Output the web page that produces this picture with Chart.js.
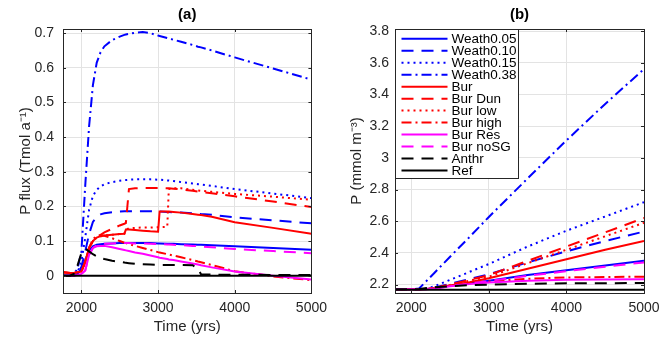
<!DOCTYPE html>
<html>
<head>
<meta charset="utf-8">
<script src="https://cdn.jsdelivr.net/npm/chart.js@4"></script>
<style>
  body { margin: 0; background: #fff; }
  .panel { position: absolute; top: 0; }
</style>
</head>
<body>
<div class="panel" style="left:0"><canvas id="chartA" width="334" height="338"></canvas></div>
<div class="panel" style="left:334px"><canvas id="chartB" width="335" height="338"></canvas></div>
<script>
// Data
const seriesNames = ['Weath0.05', 'Weath0.10', 'Weath0.15', 'Weath0.38', 'Bur', 'Bur Dun',
    'Bur low', 'Bur high', 'Bur Res', 'Bur noSG', 'Anthr', 'Ref'];

const xTicks = [2000, 3000, 4000, 5000];
const fluxTicks = [0, 0.1, 0.2, 0.3, 0.4, 0.5, 0.6, 0.7];
const concTicks = [2.2, 2.4, 2.6, 2.8, 3.0, 3.2, 3.4, 3.6, 3.8];

// (a) P flux, Tmol/a
const yearsA = [1760, 1850, 1900, 1950, 2000, 2050, 2100, 2150, 2200, 2250, 2300, 2400, 2500, 2560, 2580, 2620,
    2700, 2800, 2900, 3000, 3020, 3120, 3140, 3200, 3300, 3450, 3520, 3560, 3700, 4000, 4500, 5000];
const fluxW05 = [0, 0, 0, 0.005, 0.02, 0.045, 0.072, 0.085, 0.089, 0.091, 0.092, 0.093, 0.094, 0.094, 0.094, 0.094,
    0.094, 0.094, 0.094, 0.093, 0.093, 0.092, 0.092, 0.092, 0.091, 0.09, 0.089, 0.089, 0.088, 0.085, 0.08, 0.075];
const fluxW10 = [0, 0, 0, 0.005, 0.025, 0.07, 0.12, 0.155, 0.17, 0.177, 0.18, 0.183, 0.185, 0.186, 0.186, 0.186,
    0.186, 0.186, 0.186, 0.185, 0.185, 0.184, 0.184, 0.183, 0.182, 0.18, 0.179, 0.178, 0.176, 0.168, 0.16, 0.151];
const fluxW15 = [0, 0, 0, 0.01, 0.04, 0.11, 0.19, 0.23, 0.248, 0.258, 0.264, 0.27, 0.274, 0.276, 0.276, 0.277,
    0.278, 0.278, 0.278, 0.277, 0.277, 0.275, 0.275, 0.273, 0.27, 0.266, 0.264, 0.263, 0.259, 0.25, 0.237, 0.224];
const fluxW38 = [0, 0, 0.005, 0.02, 0.07, 0.26, 0.43, 0.55, 0.615, 0.645, 0.662, 0.68, 0.69, 0.695, 0.696, 0.698,
    0.701, 0.703, 0.7, 0.693, 0.692, 0.686, 0.685, 0.681, 0.675, 0.666, 0.661, 0.659, 0.65, 0.63, 0.598, 0.566];
const fluxBur = [0.01, 0.008, 0.008, 0.01, 0.012, 0.04, 0.08, 0.1, 0.11, 0.114, 0.116, 0.118, 0.12, 0.121, 0.133, 0.133,
    0.132, 0.13, 0.128, 0.127, 0.185, 0.185, 0.185, 0.184, 0.182, 0.178, 0.176, 0.175, 0.17, 0.154, 0.138, 0.121];
const fluxBurDun = [0.01, 0.008, 0.008, 0.01, 0.012, 0.04, 0.08, 0.1, 0.11, 0.118, 0.125, 0.135, 0.145, 0.15, 0.152, 0.25,
    0.252, 0.253, 0.253, 0.253, 0.253, 0.252, 0.252, 0.251, 0.249, 0.245, 0.243, 0.242, 0.238, 0.229, 0.214, 0.198];
const fluxBurLow = [0.01, 0.008, 0.008, 0.01, 0.012, 0.04, 0.08, 0.1, 0.11, 0.114, 0.116, 0.118, 0.12, 0.121, 0.133, 0.137,
    0.138, 0.139, 0.139, 0.14, 0.14, 0.141, 0.25, 0.252, 0.252, 0.248, 0.246, 0.245, 0.242, 0.236, 0.228, 0.219];
const fluxBurHigh = [0.01, 0.008, 0.008, 0.01, 0.012, 0.04, 0.08, 0.105, 0.115, 0.117, 0.115, 0.108, 0.1, 0.095, 0.094, 0.091,
    0.086, 0.08, 0.074, 0.068, 0.067, 0.062, 0.061, 0.058, 0.053, 0.045, 0.041, 0.039, 0.031, 0.013, -0.002, -0.013];
const fluxBurRes = [0, 0, 0, 0.002, 0.005, 0.015, 0.06, 0.08, 0.085, 0.086, 0.086, 0.082, 0.077, 0.074, 0.073, 0.071,
    0.067, 0.063, 0.058, 0.053, 0.052, 0.048, 0.047, 0.045, 0.041, 0.035, 0.032, 0.03, 0.024, 0.012, 0.0, -0.011];
const fluxBurNoSG = [0, 0, 0, 0.002, 0.005, 0.015, 0.06, 0.08, 0.088, 0.091, 0.092, 0.093, 0.094, 0.094, 0.094, 0.094,
    0.093, 0.093, 0.092, 0.091, 0.091, 0.09, 0.09, 0.089, 0.088, 0.086, 0.085, 0.084, 0.082, 0.077, 0.071, 0.065];
const fluxAnthr = [0, 0, 0.005, 0.03, 0.065, 0.078, 0.07, 0.062, 0.056, 0.051, 0.048, 0.043, 0.04, 0.038, 0.037, 0.036,
    0.034, 0.033, 0.032, 0.031, 0.031, 0.031, 0.031, 0.031, 0.031, 0.03, 0.02, 0.004, 0.003, 0.003, 0.002, 0.002];
const fluxRef = [0, 0, 0, 0, 0, 0, 0, 0, 0, 0, 0, 0, 0, 0, 0, 0,
    0, 0, 0, 0, 0, 0, 0, 0, 0, 0, 0, 0, 0, 0, 0, 0];

// (b) P concentration, mmol/m3
const yearsB = [1790, 2000, 2100, 2200, 2300, 2500, 2750, 3000, 3500, 4000, 4500, 5000];
const concW05 = [2.17, 2.17, 2.17, 2.172, 2.178, 2.192, 2.21, 2.225, 2.26, 2.29, 2.32, 2.35];
const concW10 = [2.17, 2.17, 2.17, 2.173, 2.182, 2.205, 2.235, 2.265, 2.34, 2.41, 2.475, 2.535];
const concW15 = [2.17, 2.17, 2.17, 2.175, 2.19, 2.23, 2.28, 2.33, 2.44, 2.54, 2.63, 2.72];
const concW38 = [2.17, 2.17, 2.175, 2.225, 2.275, 2.376, 2.5, 2.627, 2.87, 3.11, 3.34, 3.56];
const concBur = [2.17, 2.17, 2.17, 2.172, 2.178, 2.195, 2.215, 2.24, 2.3, 2.36, 2.42, 2.475];
const concBurDun = [2.17, 2.17, 2.17, 2.172, 2.18, 2.2, 2.23, 2.26, 2.35, 2.44, 2.53, 2.62];
const concBurLow = [2.17, 2.17, 2.17, 2.172, 2.18, 2.198, 2.225, 2.25, 2.335, 2.42, 2.505, 2.59];
const concBurHigh = [2.17, 2.17, 2.17, 2.172, 2.178, 2.192, 2.208, 2.22, 2.237, 2.245, 2.248, 2.25];
const concBurRes = [2.17, 2.17, 2.17, 2.171, 2.176, 2.19, 2.203, 2.213, 2.225, 2.23, 2.232, 2.233];
const concBurNoSG = [2.17, 2.17, 2.17, 2.171, 2.176, 2.19, 2.207, 2.222, 2.255, 2.285, 2.313, 2.34];
const concAnthr = [2.17, 2.17, 2.172, 2.178, 2.183, 2.19, 2.196, 2.2, 2.205, 2.208, 2.209, 2.21];
const concRef = [2.168, 2.168, 2.168, 2.168, 2.168, 2.168, 2.168, 2.168, 2.168, 2.168, 2.168, 2.168];

// Line styles (MATLAB-like)
const BLUE = '#0000ff', RED = '#ff0000', MAGENTA = '#ff00ff', BLACK = '#000000';
const SOLID = [], DASHED = [12, 8], DOTTED = [2, 4], DASHDOT = [10, 4, 2, 4];
const lineColors = [BLUE, BLUE, BLUE, BLUE, RED, RED, RED, RED, MAGENTA, MAGENTA, BLACK, BLACK];
const lineDashes = [SOLID, DASHED, DOTTED, DASHDOT, SOLID, DASHED, DOTTED, DASHDOT, SOLID, DASHED, DASHED, SOLID];

const TEXT = '#262626';
const GRID = '#e3e3e3';
const FONT = "'Liberation Sans', Arial, Helvetica, sans-serif";

function makeDatasets(xs, seriesList) {
    return seriesList.map((ys, i) => ({
        label: seriesNames[i],
        data: xs.map((x, j) => ({ x: x, y: ys[j] })),
        borderColor: lineColors[i],
        borderDash: lineDashes[i],
        borderWidth: 2,
        pointRadius: 0,
        tension: 0,
        fill: false,
        order: seriesList.length - i
    }));
}

// Title centred over the plot area, box frame with inward ticks
const framePlugin = {
    id: 'frame',
    afterDraw(chart, args, opts) {
        const { ctx, chartArea: a } = chart;
        ctx.save();
        ctx.strokeStyle = TEXT;
        ctx.lineWidth = 1;
        ctx.strokeRect(Math.round(a.left) + 0.5, Math.round(a.top) + 0.5,
            Math.round(a.right - a.left), Math.round(a.bottom - a.top));
        const xs = chart.scales.x, ys = chart.scales.y;
        ctx.beginPath();
        xTicks.forEach(v => {
            const px = Math.round(xs.getPixelForValue(v)) + 0.5;
            ctx.moveTo(px, a.bottom); ctx.lineTo(px, a.bottom - 3);
            ctx.moveTo(px, a.top); ctx.lineTo(px, a.top + 3);
        });
        opts.yTicks.forEach(v => {
            const py = Math.round(ys.getPixelForValue(v)) + 0.5;
            ctx.moveTo(a.left, py); ctx.lineTo(a.left + 3, py);
            ctx.moveTo(a.right, py); ctx.lineTo(a.right - 3, py);
        });
        ctx.stroke();
        ctx.fillStyle = '#000';
        ctx.font = 'bold 15px ' + FONT;
        ctx.textAlign = 'center';
        ctx.textBaseline = 'middle';
        ctx.fillText(opts.title, (a.left + a.right) / 2, 15);
        ctx.restore();
    }
};

// Boxed legend in the top-left corner of the plot area
const boxLegendPlugin = {
    id: 'boxLegend',
    afterDraw(chart, args, opts) {
        if (!opts.show) return;
        const { ctx, chartArea: a } = chart;
        const x0 = Math.round(a.left) + 0.5, y0 = Math.round(a.top) + 0.5;
        const w = 123, h = 149, rowH = 11.97;
        ctx.save();
        ctx.fillStyle = '#fff';
        ctx.fillRect(x0, y0, w, h);
        ctx.strokeStyle = TEXT;
        ctx.lineWidth = 1;
        ctx.strokeRect(x0, y0, w, h);
        ctx.font = '13.5px ' + FONT;
        ctx.textBaseline = 'middle';
        ctx.textAlign = 'left';
        chart.data.datasets.forEach((ds, i) => {
            const cy = y0 + 9.3 + i * rowH;
            ctx.beginPath();
            ctx.setLineDash(ds.borderDash);
            ctx.strokeStyle = ds.borderColor;
            ctx.lineWidth = 2;
            ctx.moveTo(x0 + 6, cy);
            ctx.lineTo(x0 + 52, cy);
            ctx.stroke();
            ctx.setLineDash([]);
            ctx.fillStyle = '#000';
            ctx.fillText(ds.label, x0 + 56, cy + 0.5);
        });
        ctx.restore();
    }
};

function buildChart(canvasId, cfg) {
    return new Chart(document.getElementById(canvasId), {
        type: 'line',
        data: { datasets: makeDatasets(cfg.years, cfg.series) },
        options: {
            responsive: false,
            animation: false,
            devicePixelRatio: 1,
            layout: { padding: { top: 29, right: cfg.padRight, bottom: 0, left: 0 } },
            plugins: {
                legend: { display: false },
                tooltip: { enabled: false },
                frame: { title: cfg.title, yTicks: cfg.yTicks },
                boxLegend: { show: cfg.legend }
            },
            scales: {
                x: {
                    type: 'linear',
                    min: cfg.xMin,
                    max: 5000,
                    afterBuildTicks: s => { s.ticks = xTicks.map(v => ({ value: v })); },
                    afterFit: s => { s.height = 45; },
                    grid: { color: GRID, drawTicks: false },
                    border: { display: false },
                    ticks: {
                        padding: 7,
                        color: TEXT,
                        font: { family: FONT, size: 14 },
                        maxRotation: 0,
                        callback: v => String(v)
                    },
                    title: {
                        display: true,
                        text: 'Time (yrs)',
                        color: TEXT,
                        font: { family: FONT, size: 15 },
                        padding: { top: 0, bottom: 2 }
                    }
                },
                y: {
                    type: 'linear',
                    min: cfg.yMin,
                    max: cfg.yMax,
                    afterBuildTicks: s => { s.ticks = cfg.yTicks.map(v => ({ value: v })); },
                    afterFit: s => { s.width = cfg.yWidth; },
                    grid: { color: GRID, drawTicks: false },
                    border: { display: false },
                    ticks: {
                        padding: cfg.tickPad,
                        color: TEXT,
                        font: { family: FONT, size: 14 },
                        callback: v => String(parseFloat(v.toFixed(2)))
                    },
                    title: {
                        display: true,
                        text: cfg.yLabel,
                        color: TEXT,
                        font: { family: FONT, size: 15 },
                        padding: { top: cfg.titlePad, bottom: 0 }
                    }
                }
            }
        },
        plugins: [framePlugin, boxLegendPlugin]
    });
}

buildChart('chartA', {
    title: '(a)',
    years: yearsA,
    series: [fluxW05, fluxW10, fluxW15, fluxW38, fluxBur, fluxBurDun, fluxBurLow, fluxBurHigh,
        fluxBurRes, fluxBurNoSG, fluxAnthr, fluxRef],
    xMin: 1760, yMin: -0.05, yMax: 0.712, yTicks: fluxTicks,
    yLabel: 'P flux (Tmol a\u207B\u00B9)',
    yWidth: 63, padRight: 22, tickPad: 9, titlePad: 17, legend: false
});

buildChart('chartB', {
    title: '(b)',
    years: yearsB,
    series: [concW05, concW10, concW15, concW38, concBur, concBurDun, concBurLow, concBurHigh,
        concBurRes, concBurNoSG, concAnthr, concRef],
    xMin: 1790, yMin: 2.147, yMax: 3.813, yTicks: concTicks,
    yLabel: 'P (mmol m\u207B\u00B3)',
    yWidth: 61, padRight: 25, tickPad: 6, titlePad: 14, legend: true
});
</script>
</body>
</html>
